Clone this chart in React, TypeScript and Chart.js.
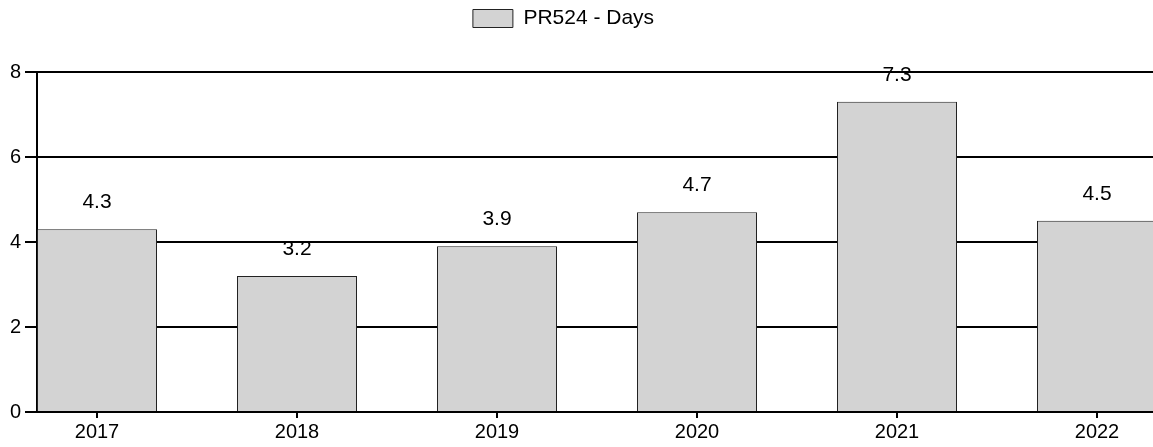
import React, { useEffect, useRef } from 'react';
import { Chart, registerables } from 'chart.js';

Chart.register(...registerables);

// ---- data ----
const years = [2017, 2018, 2019, 2020, 2021, 2022];
const days = [4.3, 3.2, 3.9, 4.7, 7.3, 4.5];
const yTicks = [0, 2, 4, 6, 8];
const seriesLabel = 'PR524 - Days';

const FONT = '"Liberation Sans", Arial, Helvetica, sans-serif';

export default function App() {
  const ref = useRef<HTMLCanvasElement>(null);

  useEffect(() => {
    const canvas = ref.current;
    if (!canvas) return;

    const valueLabels = {
      id: 'valueLabels',
      afterDatasetsDraw(chart: any) {
        const ctx = chart.ctx;
        const meta = chart.getDatasetMeta(0);
        const data = chart.data.datasets[0].data as any[];
        ctx.save();
        ctx.font = `21px ${FONT}`;
        ctx.fillStyle = '#000';
        ctx.textAlign = 'center';
        ctx.textBaseline = 'alphabetic';
        meta.data.forEach((bar: any, i: number) => {
          const v = data[i].y as number;
          ctx.fillText(v.toFixed(1), bar.x, bar.y - 21);
        });
        ctx.restore();
      },
    };

    const legendShift = {
      id: 'legendShift',
      afterLayout(chart: any) {
        const l = chart.legend;
        if (!l) return;
        l.top -= 33;
        l.bottom -= 33;
        l.left -= 13;
        l.right -= 13;
      },
    };

    const chart = new Chart(canvas, {
      type: 'bar',
      data: {
        datasets: [
          {
            label: seriesLabel,
            data: years.map((y, i) => ({ x: y, y: days[i] })),
            backgroundColor: '#d3d3d3',
            borderColor: '#222',
            borderWidth: 1,
            barPercentage: 0.6,
            categoryPercentage: 1,
          },
        ],
      },
      options: {
        animation: false,
        responsive: false,
        layout: { padding: { top: 33, left: 0, right: 0, bottom: 0 } },
        plugins: {
          legend: {
            display: true,
            position: 'top',
            labels: {
              boxWidth: 40,
              boxHeight: 18,
              padding: 8,
              color: '#000',
              font: { family: FONT, size: 21 },
            },
          },
          tooltip: { enabled: false },
        },
        scales: {
          x: {
            type: 'linear',
            offset: false,
            min: 2016.7,
            max: 2022.28,
            afterBuildTicks: (axis: any) => {
              axis.ticks = years.map((v) => ({ value: v }));
            },
            ticks: {
              color: '#000',
              font: { family: FONT, size: 20 },
              padding: 2.5,
              maxRotation: 0,
              autoSkip: false,
              callback: (v: any) => String(v),
            },
            grid: {
              offset: false,
              drawOnChartArea: false,
              drawTicks: true,
              tickLength: 6,
              color: '#000',
              lineWidth: 2,
            },
            border: { display: true, color: '#000', width: 2 },
          },
          y: {
            type: 'linear',
            min: 0,
            max: 8,
            afterBuildTicks: (axis: any) => {
              axis.ticks = yTicks.map((v) => ({ value: v }));
            },
            afterFit: (axis: any) => {
              axis.width = 37;
            },
            ticks: {
              color: '#000',
              font: { family: FONT, size: 20 },
              padding: 4,
            },
            grid: {
              color: '#000',
              lineWidth: 2,
              tickLength: 12,
            },
            border: { display: true, color: '#000', width: 2 },
          },
        },
      },
      plugins: [valueLabels, legendShift],
    } as any);

    return () => chart.destroy();
  }, []);

  return (
    <div style={{ position: 'absolute', left: 0, top: 0, width: 1153, height: 447 }}>
      <canvas ref={ref} width={1153} height={447} style={{ display: 'block' }} />
    </div>
  );
}
